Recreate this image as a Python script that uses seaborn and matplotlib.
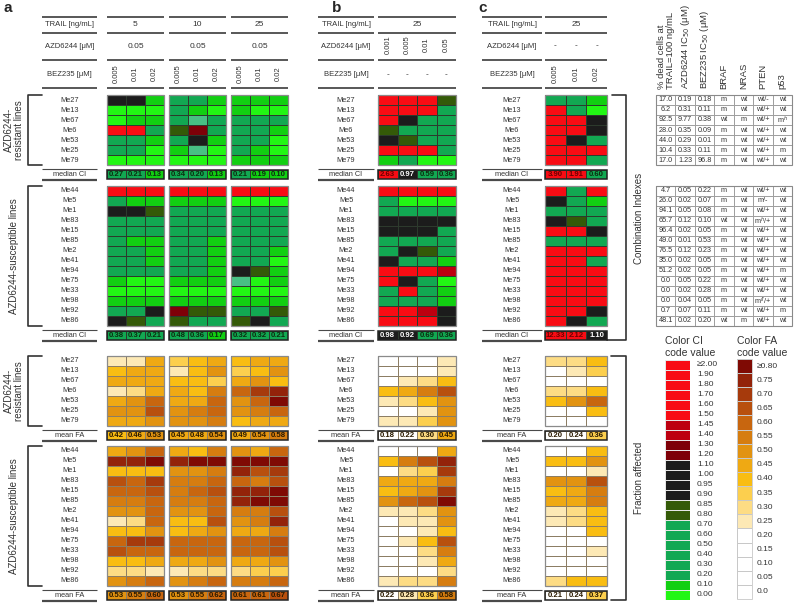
import numpy as np
import matplotlib
matplotlib.use("Agg")
import matplotlib.pyplot as plt
from matplotlib.colors import ListedColormap, BoundaryNorm
from matplotlib.patches import Rectangle
import seaborn as sns

# ---------------- data ----------------
resistant_lines = ['Me27', 'Me13', 'Me67', 'Me6', 'Me53', 'Me25', 'Me79']
susceptible_lines = ['Me44', 'Me5', 'Me1', 'Me83', 'Me15', 'Me85', 'Me2', 'Me41',
                     'Me94', 'Me75', 'Me33', 'Me98', 'Me92', 'Me86']

trail_a = ['5', '10', '25']
azd_a = ['0.05', '0.05', '0.05']
bez_a = ['0.005', '0.01', '0.02']
azd_b = ['0.001', '0.005', '0.01', '0.05']
bez_c = ['0.005', '0.01', '0.02']

# combination index (estimated from the colour classes)
ci_a_res = [
    [1.0, 1.0, 0.15, 0.45, 0.45, 0.15, 0.15, 0.15, 0.15],
    [0.05, 0.05, 0.05, 0.45, 0.15, 0.05, 0.15, 0.05, 0.05],
    [0.05, 0.15, 0.15, 0.45, 0.77, 0.45, 0.45, 0.45, 0.45],
    [2.0, 2.0, 0.45, 0.85, 1.25, 0.45, 0.45, 0.45, 0.15],
    [0.45, 0.45, 0.15, 0.45, 1.0, 0.15, 0.45, 0.45, 0.05],
    [0.45, 0.45, 0.05, 0.15, 0.77, 0.05, 0.45, 0.15, 0.05],
    [0.05, 0.05, 0.05, 0.05, 0.05, 0.05, 0.15, 0.15, 0.15],
]
ci_a_sus = [
    [2.0, 2.0, 2.0, 2.0, 2.0, 2.0, 2.0, 2.0, 2.0],
    [0.45, 0.15, 0.15, 0.15, 0.15, 0.15, 0.05, 0.05, 0.05],
    [1.0, 1.0, 0.85, 0.45, 0.45, 0.45, 0.45, 0.45, 0.45],
    [0.45, 0.45, 0.45, 0.45, 0.45, 0.45, 0.45, 0.45, 0.45],
    [0.45, 0.45, 0.45, 0.45, 0.45, 0.45, 0.45, 0.45, 0.45],
    [0.45, 0.15, 0.15, 0.45, 0.45, 0.15, 0.45, 0.45, 0.45],
    [0.45, 0.45, 0.15, 0.45, 0.45, 0.15, 0.45, 0.45, 0.15],
    [0.45, 0.45, 0.15, 0.45, 0.45, 0.15, 0.45, 0.45, 0.05],
    [0.45, 0.45, 0.45, 0.45, 0.45, 0.15, 1.0, 0.85, 0.15],
    [0.15, 0.05, 0.05, 0.15, 0.15, 0.15, 0.77, 0.05, 0.15],
    [0.05, 0.05, 0.05, 0.05, 0.05, 0.05, 0.05, 0.05, 0.05],
    [0.15, 0.15, 0.15, 0.15, 0.15, 0.15, 0.15, 0.15, 0.15],
    [0.45, 0.45, 1.0, 1.25, 0.85, 0.85, 0.45, 0.45, 0.85],
    [1.0, 0.85, 0.45, 0.85, 0.45, 0.45, 0.85, 1.0, 0.45],
]
ci_b_res = [
    [2.0, 2.0, 2.0, 0.85],
    [2.0, 2.0, 2.0, 0.45],
    [2.0, 1.0, 0.45, 0.45],
    [0.85, 0.45, 0.45, 0.45],
    [1.0, 0.85, 0.45, 0.45],
    [2.0, 2.0, 2.0, 0.45],
    [0.15, 0.45, 0.05, 0.05],
]
ci_b_sus = [
    [2.0, 2.0, 2.0, 2.0],
    [0.45, 0.05, 0.05, 0.05],
    [0.45, 0.45, 0.45, 0.45],
    [1.0, 1.0, 1.0, 1.0],
    [1.0, 1.0, 1.0, 0.45],
    [0.45, 0.45, 0.45, 0.45],
    [0.45, 1.0, 0.85, 0.45],
    [1.0, 0.45, 0.45, 0.15],
    [2.0, 2.0, 2.0, 1.42],
    [2.0, 1.0, 0.45, 0.05],
    [0.45, 2.0, 0.45, 0.15],
    [0.45, 0.45, 0.45, 0.15],
    [2.0, 2.0, 1.42, 1.0],
    [2.0, 2.0, 2.0, 1.0],
]
ci_c_res = [
    [0.45, 0.45, 0.15],
    [2.0, 0.45, 0.05],
    [2.0, 2.0, 1.0],
    [2.0, 2.0, 1.0],
    [2.0, 1.0, 0.45],
    [2.0, 2.0, 2.0],
    [2.0, 2.0, 0.45],
]
ci_c_sus = [
    [2.0, 0.45, 2.0],
    [1.0, 0.45, 0.15],
    [0.45, 0.45, 0.45],
    [1.0, 0.85, 0.45],
    [2.0, 2.0, 1.0],
    [0.45, 0.45, 0.45],
    [2.0, 2.0, 2.0],
    [2.0, 2.0, 0.45],
    [2.0, 2.0, 2.0],
    [2.0, 2.0, 2.0],
    [2.0, 2.0, 2.0],
    [2.0, 2.0, 2.0],
    [2.0, 2.0, 1.0],
    [2.0, 1.0, 0.45],
]
ci_a_res_med = [0.27, 0.21, 0.13, 0.34, 0.20, 0.13, 0.21, 0.19, 0.10]
ci_a_sus_med = [0.38, 0.37, 0.21, 0.48, 0.36, 0.17, 0.32, 0.32, 0.21]
ci_b_res_med = [2.63, 0.97, 0.59, 0.36]
ci_b_sus_med = [0.98, 0.92, 0.69, 0.36]
ci_c_res_med = [3.90, 1.91, 0.60]
ci_c_sus_med = [12.33, 2.12, 1.10]

# fraction affected
fa_a_res = [
    [0.27, 0.27, 0.47, 0.37, 0.42, 0.47, 0.42, 0.47, 0.47],
    [0.42, 0.47, 0.47, 0.27, 0.42, 0.52, 0.37, 0.42, 0.52],
    [0.47, 0.47, 0.47, 0.42, 0.42, 0.37, 0.47, 0.52, 0.42],
    [0.27, 0.32, 0.47, 0.47, 0.42, 0.57, 0.62, 0.72, 0.77],
    [0.47, 0.52, 0.62, 0.47, 0.47, 0.62, 0.52, 0.62, 0.82],
    [0.52, 0.52, 0.67, 0.52, 0.57, 0.62, 0.52, 0.57, 0.62],
    [0.47, 0.47, 0.52, 0.52, 0.52, 0.57, 0.42, 0.47, 0.47],
]
fa_a_sus = [
    [0.47, 0.52, 0.62, 0.47, 0.42, 0.57, 0.52, 0.47, 0.62],
    [0.77, 0.77, 0.82, 0.77, 0.82, 0.82, 0.82, 0.82, 0.82],
    [0.42, 0.42, 0.42, 0.52, 0.52, 0.57, 0.77, 0.67, 0.72],
    [0.67, 0.62, 0.72, 0.57, 0.57, 0.62, 0.62, 0.57, 0.67],
    [0.62, 0.62, 0.67, 0.57, 0.62, 0.67, 0.77, 0.77, 0.82],
    [0.57, 0.57, 0.62, 0.57, 0.57, 0.62, 0.77, 0.82, 0.82],
    [0.52, 0.52, 0.62, 0.52, 0.52, 0.62, 0.57, 0.57, 0.67],
    [0.27, 0.32, 0.62, 0.42, 0.42, 0.67, 0.52, 0.57, 0.77],
    [0.42, 0.42, 0.52, 0.42, 0.47, 0.52, 0.47, 0.47, 0.57],
    [0.62, 0.72, 0.72, 0.62, 0.62, 0.62, 0.62, 0.62, 0.67],
    [0.67, 0.62, 0.62, 0.62, 0.62, 0.62, 0.62, 0.62, 0.67],
    [0.42, 0.42, 0.47, 0.47, 0.47, 0.52, 0.47, 0.47, 0.52],
    [0.32, 0.32, 0.27, 0.27, 0.32, 0.32, 0.32, 0.37, 0.37],
    [0.52, 0.57, 0.62, 0.52, 0.57, 0.62, 0.57, 0.57, 0.62],
]
fa_b_res = [
    [0.10, 0.10, 0.10, 0.27],
    [0.10, 0.10, 0.10, 0.27],
    [0.10, 0.27, 0.32, 0.42],
    [0.42, 0.47, 0.57, 0.67],
    [0.27, 0.32, 0.42, 0.52],
    [0.10, 0.10, 0.27, 0.52],
    [0.26, 0.26, 0.37, 0.52],
]
fa_b_sus = [
    [0.10, 0.10, 0.10, 0.47],
    [0.42, 0.57, 0.67, 0.77],
    [0.10, 0.32, 0.37, 0.72],
    [0.47, 0.47, 0.47, 0.57],
    [0.42, 0.47, 0.52, 0.72],
    [0.52, 0.62, 0.67, 0.82],
    [0.27, 0.27, 0.32, 0.52],
    [0.10, 0.26, 0.27, 0.52],
    [0.10, 0.10, 0.27, 0.42],
    [0.10, 0.27, 0.42, 0.67],
    [0.10, 0.10, 0.32, 0.57],
    [0.10, 0.10, 0.26, 0.47],
    [0.10, 0.10, 0.10, 0.32],
    [0.26, 0.32, 0.32, 0.57],
]
fa_c_res = [
    [0.32, 0.32, 0.42],
    [0.10, 0.26, 0.37],
    [0.10, 0.10, 0.10],
    [0.32, 0.32, 0.42],
    [0.42, 0.52, 0.62],
    [0.10, 0.10, 0.42],
    [0.10, 0.10, 0.10],
]
fa_c_sus = [
    [0.10, 0.10, 0.42],
    [0.42, 0.42, 0.52],
    [0.10, 0.10, 0.27],
    [0.52, 0.52, 0.67],
    [0.42, 0.47, 0.57],
    [0.47, 0.47, 0.57],
    [0.27, 0.32, 0.42],
    [0.27, 0.32, 0.42],
    [0.10, 0.10, 0.42],
    [0.10, 0.10, 0.10],
    [0.10, 0.10, 0.26],
    [0.10, 0.10, 0.10],
    [0.10, 0.10, 0.10],
    [0.32, 0.42, 0.42],
]
fa_a_res_mean = [0.42, 0.46, 0.53, 0.45, 0.48, 0.54, 0.49, 0.54, 0.58]
fa_a_sus_mean = [0.53, 0.55, 0.60, 0.53, 0.55, 0.62, 0.61, 0.61, 0.67]
fa_b_res_mean = [0.18, 0.22, 0.30, 0.45]
fa_b_sus_mean = [0.22, 0.28, 0.36, 0.58]
fa_c_res_mean = [0.20, 0.24, 0.36]
fa_c_sus_mean = [0.21, 0.24, 0.37]

# table on the right
dead_res = [17.0, 6.2, 92.5, 28.0, 44.0, 10.4, 17.0]
azd_ic50_res = [0.19, 0.31, 9.77, 0.35, 0.29, 0.33, 1.23]
bez_ic50_res = [0.18, 0.11, 0.38, 0.09, 0.01, 0.11, 96.8]
braf_res = ['m', 'm', 'wt', 'm', 'm', 'm', 'm']
nras_res = ['wt', 'wt', 'm', 'wt', 'wt', 'wt', 'wt']
pten_res = ['wt/-', 'wt/+', 'wt/+', 'wt/+', 'wt/+', 'wt/+', 'wt/+']
p53_res = ['wt', 'wt', 'm$^h$', 'wt', 'wt', 'm', 'wt']

dead_sus = [4.7, 26.0, 94.1, 65.7, 96.4, 49.0, 76.5, 35.0, 51.2, 0.0, 0.0, 0.0, 0.7, 48.1]
azd_ic50_sus = [0.05, 0.02, 0.05, 0.12, 0.02, 0.01, 0.12, 0.02, 0.02, 0.05, 0.02, 0.04, 0.07, 0.02]
bez_ic50_sus = [0.22, 0.07, 0.08, 0.10, 0.05, 0.53, 0.23, 0.05, 0.05, 0.22, 0.28, 0.05, 0.11, 0.20]
braf_sus = ['m', 'm', 'm', 'wt', 'm', 'm', 'm', 'm', 'm', 'm', 'm', 'm', 'm', 'wt']
nras_sus = ['wt'] * 13 + ['m']
pten_sus = ['wt/+', 'm/-', 'wt/+', 'm$^h$/+', 'wt/+', 'wt/+', 'wt/+', 'wt/+', 'wt/+',
            'wt/+', 'wt/+', 'm$^{fl}$/+', 'wt/+', 'wt/+']
p53_sus = ['wt', 'wt', 'wt', 'wt', 'wt', 'wt', 'wt', 'wt', 'm', 'wt', 'wt', 'wt', 'm', 'wt']
table_headers = ['% dead cells at\nTRAIL=100 ng/mL', 'AZD6244 IC$_{50}$ (μM)', 'BEZ235 IC$_{50}$ (μM)',
                 'BRAF', 'NRAS', 'PTEN', 'p53']

# colour code legends
ci_legend = [2.0, 1.9, 1.8, 1.7, 1.6, 1.5, 1.45, 1.4, 1.3, 1.2, 1.1, 1.0, 0.95, 0.9,
             0.85, 0.8, 0.7, 0.6, 0.5, 0.4, 0.3, 0.2, 0.1, 0.0]
ci_legend_labels = ['≥2.00'] + [f'{v:.2f}' for v in ci_legend[1:]]
fa_legend = [0.8, 0.75, 0.7, 0.65, 0.6, 0.55, 0.5, 0.45, 0.4, 0.35, 0.3, 0.25, 0.2, 0.15, 0.1, 0.05, 0.0]
fa_legend_labels = ['≥0.80'] + [f'{v:.2f}' for v in fa_legend[1:-1]] + ['0.0']

# ---------------- colour scales ----------------
ci_cmap = ListedColormap(['#22f614', '#12cf12', '#12a852', '#48c084', '#345a08',
                          '#1c1c1c', '#7e0008', '#bd0010', '#f80c14'])
ci_norm = BoundaryNorm([0, 0.1, 0.2, 0.75, 0.8, 0.9, 1.15, 1.35, 1.475, 100], ci_cmap.N)
fa_cmap = ListedColormap(['#ffffff'] * 5 + ['#fde9b5', '#fddc84', '#fccf4e', '#f9bd12', '#efa913',
                                           '#e29311', '#d67d10', '#c8660f', '#b8500e', '#a63a0c',
                                           '#93230a', '#7f0a04'])
fa_norm = BoundaryNorm([0, 0.05, 0.1, 0.15, 0.2, 0.25, 0.3, 0.35, 0.4, 0.45, 0.5, 0.55,
                        0.6, 0.65, 0.7, 0.75, 0.8, 100], fa_cmap.N)

sns.set_style("white")
plt.rcParams['font.family'] = ['Liberation Sans', 'DejaVu Sans']

W, H = 794, 603
fig = plt.figure(figsize=(W / 100, H / 100), dpi=100)
fig.patch.set_facecolor('white')

ov = fig.add_axes([0, 0, 1, 1])
ov.set_xlim(0, W)
ov.set_ylim(H, 0)
ov.axis('off')

LINE = '#4a4a4a'


def hline(x0, x1, y, lw=1.3):
    ov.plot([x0, x1], [y, y], color=LINE, lw=lw, solid_capstyle='butt')


def block(values, x0, x1, y0, y1, cmap, norm, line, kind=None):
    ax = fig.add_axes([x0 / W, 1 - y1 / H, (x1 - x0) / W, (y1 - y0) / H])
    data = np.array(values, dtype=float)
    if data.ndim == 1:
        data = data[None, :]
    sns.heatmap(data, ax=ax, cmap=cmap, norm=norm, cbar=False, linewidths=0.4,
                linecolor=line, xticklabels=False, yticklabels=False,
                annot=kind is not None, fmt='.2f',
                annot_kws={'size': 5.6, 'weight': 'bold'})
    if kind is None:
        ax.add_patch(Rectangle((0, 0), 1, 1, transform=ax.transAxes, fill=False,
                               ec='#8a8a8a', lw=0.9, clip_on=False))
    else:
        ax.add_patch(Rectangle((0, 0), 1, 1, transform=ax.transAxes, fill=False,
                               ec='#222222', lw=1.1, clip_on=False))
        for t, v in zip(ax.texts, data.ravel()):
            if kind == 'ci':
                if v >= 1.475:
                    t.set_color('#6e0000')
                elif v >= 0.9:
                    t.set_color('white')
                else:
                    t.set_color('#0b2e10')
            else:
                t.set_color('#2a1a00')
    return ax


rows_y = {
    'ci_res': (95, 165), 'ci_res_sum': (170, 179),
    'ci_sus': (186, 326), 'ci_sus_sum': (331, 340),
    'fa_res': (356, 426), 'fa_res_sum': (431, 440),
    'fa_sus': (446, 586), 'fa_sus_sum': (591, 600),
}

panels = [
    dict(letter='a', lx=(42, 97), groups=[(107, 164), (169, 226), (231, 288)], ncol=3, lpos=3,
         ci_res=ci_a_res, ci_sus=ci_a_sus, ci_res_sum=ci_a_res_med, ci_sus_sum=ci_a_sus_med,
         fa_res=fa_a_res, fa_sus=fa_a_sus, fa_res_sum=fa_a_res_mean, fa_sus_sum=fa_a_sus_mean),
    dict(letter='b', lx=(318, 374), groups=[(378, 456)], ncol=4, lpos=332,
         ci_res=ci_b_res, ci_sus=ci_b_sus, ci_res_sum=ci_b_res_med, ci_sus_sum=ci_b_sus_med,
         fa_res=fa_b_res, fa_sus=fa_b_sus, fa_res_sum=fa_b_res_mean, fa_sus_sum=fa_b_sus_mean),
    dict(letter='c', lx=(482, 542), groups=[(545, 607)], ncol=3, lpos=478,
         ci_res=ci_c_res, ci_sus=ci_c_sus, ci_res_sum=ci_c_res_med, ci_sus_sum=ci_c_sus_med,
         fa_res=fa_c_res, fa_sus=fa_c_sus, fa_res_sum=fa_c_res_mean, fa_sus_sum=fa_c_sus_mean),
]

for p in panels:
    lx0, lx1 = p['lx']
    lc = (lx0 + lx1) / 2
    ov.text(p['lpos'], 8, p['letter'], fontsize=11, fontweight='bold', ha='left', va='center')
    # header label column
    for y in (17, 33, 60, 88):
        hline(lx0, lx1, y)
    ov.text(lc, 25, 'TRAIL [ng/mL]', fontsize=5.5, ha='center', va='center', color='#333')
    ov.text(lc, 46, 'AZD6244 [μM]', fontsize=5.5, ha='center', va='center', color='#333')
    ov.text(lc, 74, 'BEZ235 [μM]', fontsize=5.5, ha='center', va='center', color='#333')
    # row labels
    for key, names in (('ci_res', resistant_lines), ('ci_sus', susceptible_lines),
                       ('fa_res', resistant_lines), ('fa_sus', susceptible_lines)):
        y0, y1 = rows_y[key]
        step = (y1 - y0) / len(names)
        for i, n in enumerate(names):
            ov.text(lc, y0 + step * (i + 0.5), n, fontsize=5.3, ha='center', va='center', color='#333')
    for key, lab in (('ci_res_sum', 'median CI'), ('ci_sus_sum', 'median CI'),
                     ('fa_res_sum', 'mean FA'), ('fa_sus_sum', 'mean FA')):
        y0, y1 = rows_y[key]
        hline(lx0, lx1, y0 - 1, lw=0.8)
        hline(lx0, lx1, y1 + 1, lw=1.6)
        ov.text(lc, (y0 + y1) / 2, lab, fontsize=5.3, ha='center', va='center', color='#333')

    n = p['ncol']
    for g, (gx0, gx1) in enumerate(p['groups']):
        for y in (17, 33, 60, 88):
            hline(gx0, gx1, y)
        gc = (gx0 + gx1) / 2
        cw = (gx1 - gx0) / n
        if p['letter'] == 'a':
            ov.text(gc, 25, trail_a[g], fontsize=6, ha='center', va='center', color='#333')
            ov.text(gc, 46, azd_a[g], fontsize=6, ha='center', va='center', color='#333')
            for j, s in enumerate(bez_a):
                ov.text(gx0 + cw * (j + 0.5), 74, s, fontsize=5.5, rotation=90,
                        ha='center', va='center', color='#333')
        elif p['letter'] == 'b':
            ov.text(gc, 25, '25', fontsize=6, ha='center', va='center', color='#333')
            for j, s in enumerate(azd_b):
                ov.text(gx0 + cw * (j + 0.5), 45, s, fontsize=5.5, rotation=90,
                        ha='center', va='center', color='#333')
                ov.text(gx0 + cw * (j + 0.5), 75, '-', fontsize=6, ha='center', va='center', color='#333')
        else:
            ov.text(gc, 25, '25', fontsize=6, ha='center', va='center', color='#333')
            for j, s in enumerate(bez_c):
                ov.text(gx0 + cw * (j + 0.5), 46, '-', fontsize=6, ha='center', va='center', color='#333')
                ov.text(gx0 + cw * (j + 0.5), 74, s, fontsize=5.5, rotation=90,
                        ha='center', va='center', color='#333')

        cols = slice(g * n, (g + 1) * n)
        for key in ('ci_res', 'ci_sus', 'fa_res', 'fa_sus'):
            y0, y1 = rows_y[key]
            vals = np.array(p[key])[:, cols]
            is_ci = key.startswith('ci')
            block(vals, gx0, gx1, y0, y1, ci_cmap if is_ci else fa_cmap,
                  ci_norm if is_ci else fa_norm, '#2d3a2d' if is_ci else '#8c7d64')
            y0, y1 = rows_y[key + '_sum']
            vals = np.array(p[key + '_sum'])[cols]
            block(vals, gx0, gx1, y0, y1, ci_cmap if is_ci else fa_cmap,
                  ci_norm if is_ci else fa_norm, '#2d3a2d' if is_ci else '#8c7d64',
                  kind='ci' if is_ci else 'fa')

# left brackets with group names
for key, lab in (('ci_res', 'AZD6244-\nresistant lines'), ('ci_sus', 'AZD6244-susceptible lines'),
                 ('fa_res', 'AZD6244-\nresistant lines'), ('fa_sus', 'AZD6244-susceptible lines')):
    y0, y1 = rows_y[key]
    ov.plot([42, 28, 28, 42], [y0, y0, y1, y1], color='#333', lw=1.2)
    ov.text(14, (y0 + y1) / 2, lab, fontsize=7, rotation=90, ha='center', va='center',
            color='#333', linespacing=1.0)

# right brackets
ov.plot([612, 626, 626, 607], [95, 95, 340, 340], color='#333', lw=1.2)
ov.text(639, 218, 'Combination Indexes', fontsize=7, rotation=90, ha='center', va='center', color='#333')
ov.plot([611, 626, 626, 611], [356, 356, 600, 600], color='#333', lw=1.2)
ov.text(639, 478, 'Fraction affected', fontsize=7, rotation=90, ha='center', va='center', color='#333')

# table
tx0, tx1 = 656, 792
tw = (tx1 - tx0) / len(table_headers)


def fmt_num(v, dec):
    return f'{v:.{dec}f}' if v < 10 else f'{v:.1f}'


for key, cols in (('ci_res', (dead_res, azd_ic50_res, bez_ic50_res, braf_res, nras_res, pten_res, p53_res)),
                  ('ci_sus', (dead_sus, azd_ic50_sus, bez_ic50_sus, braf_sus, nras_sus, pten_sus, p53_sus))):
    y0, y1 = rows_y[key]
    labels = np.column_stack([
        [f'{v:.1f}' for v in cols[0]],
        [fmt_num(v, 2) for v in cols[1]],
        [fmt_num(v, 2) for v in cols[2]],
        cols[3], cols[4], cols[5], cols[6]])
    ax = fig.add_axes([tx0 / W, 1 - y1 / H, (tx1 - tx0) / W, (y1 - y0) / H])
    sns.heatmap(np.zeros(labels.shape), ax=ax, cmap=ListedColormap(['white']), cbar=False,
                annot=labels, fmt='', annot_kws={'size': 5.2, 'color': '#333'},
                linewidths=0.5, linecolor='#a0a0a0', xticklabels=False, yticklabels=False)
    ax.add_patch(Rectangle((0, 0), 1, 1, transform=ax.transAxes, fill=False,
                           ec='#8a8a8a', lw=0.8, clip_on=False))

for j, h in enumerate(table_headers):
    ov.text(tx0 + tw * (j + 0.5), 89, h, fontsize=6.8, rotation=90, ha='center', va='bottom',
            multialignment='left', color='#333', linespacing=1.0)

# colour legends
ov.text(665, 347, 'Color CI\ncode value', fontsize=7.5, ha='left', va='center', color='#333',
        linespacing=1.2)
lax = fig.add_axes([665 / W, 1 - 600 / H, 25 / W, 240 / H])
sns.heatmap(np.array(ci_legend)[:, None], ax=lax, cmap=ci_cmap, norm=ci_norm, cbar=False,
            linewidths=0.5, linecolor='#e6e6e6', xticklabels=False, yticklabels=False)
for i, s in enumerate(ci_legend_labels):
    ov.text(697, 360 + 10 * (i + 0.5), s, fontsize=6, ha='left', va='center', color='#333')

ov.text(737, 347, 'Color FA\ncode value', fontsize=7.5, ha='left', va='center', color='#333',
        linespacing=1.2)
fax = fig.add_axes([737 / W, 1 - 599 / H, 15 / W, 240 / H])
sns.heatmap(np.array(fa_legend)[:, None], ax=fax, cmap=fa_cmap, norm=fa_norm, cbar=False,
            linewidths=0.5, linecolor='#c8c8c8', xticklabels=False, yticklabels=False)
fax.add_patch(Rectangle((0, 0), 1, 1, transform=fax.transAxes, fill=False,
                        ec='#c8c8c8', lw=0.6, clip_on=False))
for i, s in enumerate(fa_legend_labels):
    ov.text(757, 359 + 240 / 17 * (i + 0.5), s, fontsize=6, ha='left', va='center', color='#333')

fig.savefig('out.png', dpi=100, facecolor='white')
